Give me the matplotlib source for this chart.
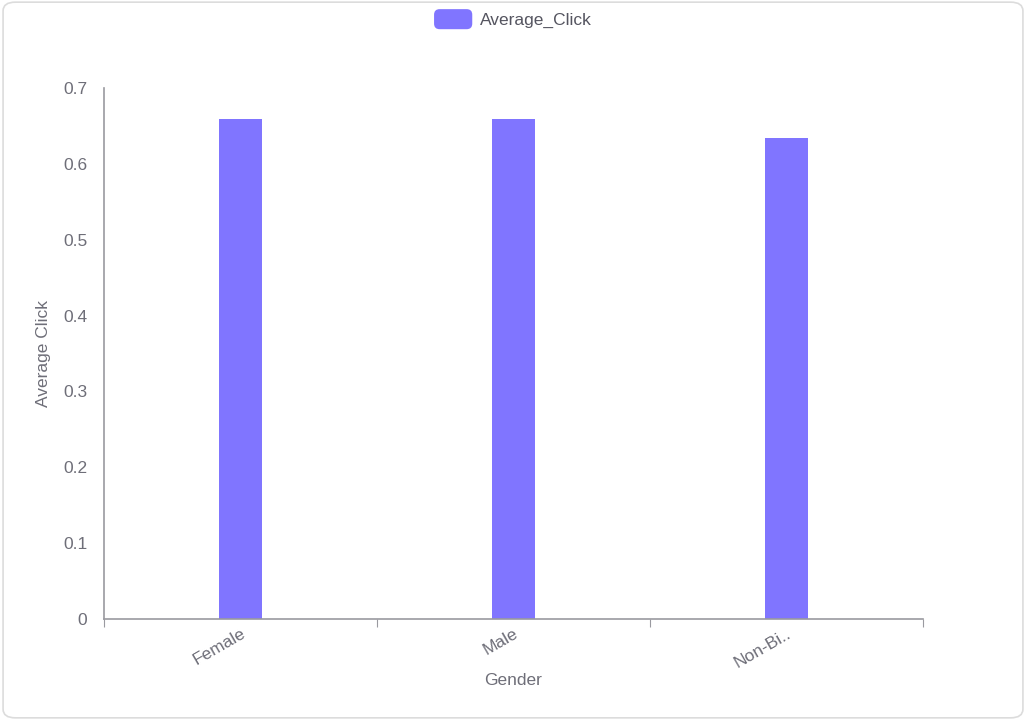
import matplotlib.pyplot as plt
from matplotlib.patches import FancyBboxPatch, Rectangle
from matplotlib.legend_handler import HandlerPatch

plt.rcParams["font.family"] = ["Liberation Sans", "DejaVu Sans"]

categories = ["Female", "Male", "Non-Bi.."]
average_click = [0.659, 0.659, 0.634]
y_ticks = [0, 0.1, 0.2, 0.3, 0.4, 0.5, 0.6, 0.7]

bar_color = "#8075ff"
text_color = "#6e6e78"
axis_color = "#9a9aa0"

fig = plt.figure(figsize=(10.26, 7.2), dpi=100)
fig.patches.append(FancyBboxPatch((0.003, 0.003), 0.994, 0.994,
                                  boxstyle="round,pad=0,rounding_size=0.012",
                                  transform=fig.transFigure, facecolor="white",
                                  edgecolor="#dcdcdc", linewidth=1.2, zorder=-1))

ax = fig.add_axes([0.1014, 0.1403, 0.7982, 0.7375])
ax.set_facecolor("none")

x = list(range(len(categories)))
ax.bar(x, average_click, width=0.157, color=bar_color)

ax.set_xlim(-0.5, len(categories) - 0.5)
ax.set_ylim(0, 0.7)
ax.set_yticks(y_ticks)
ax.set_yticklabels(["0" if v == 0 else f"{v:.1f}" for v in y_ticks])
ax.tick_params(axis="y", length=0, pad=12, labelsize=12.5, labelcolor=text_color)

# ticks on category boundaries
ax.set_xticks([i - 0.5 for i in range(len(categories) + 1)], minor=False)
ax.set_xticklabels([""] * (len(categories) + 1))
ax.tick_params(axis="x", which="major", length=6, color=axis_color, direction="out")
ax.set_xticks(x, minor=True)
ax.set_xticklabels(categories, minor=True, rotation=30, ha="right",
                   rotation_mode="anchor", fontsize=12.5, color=text_color)
ax.tick_params(axis="x", which="minor", length=0, pad=5)

for s in ["top", "right"]:
    ax.spines[s].set_visible(False)
ax.spines["left"].set_color(axis_color)
ax.spines["bottom"].set_color(axis_color)
ax.spines["left"].set_linewidth(1.2)
ax.spines["bottom"].set_linewidth(1.2)

ax.set_xlabel("Gender", fontsize=12.5, color=text_color, labelpad=2)
ax.set_ylabel("Average Click", fontsize=12.5, color=text_color, labelpad=9)


def rounded_handle(legend, orig_handle, xdescent, ydescent, width, height, fontsize):
    return FancyBboxPatch((-xdescent, -ydescent), width, height,
                          boxstyle="round,pad=0,rounding_size=4")


leg_handle = Rectangle((0, 0), 1, 1, facecolor=bar_color, edgecolor="none")
fig.legend([leg_handle], ["Average_Click"], loc="upper center",
           bbox_to_anchor=(0.5, 1.009), frameon=False, fontsize=12.5,
           handlelength=2.2, handleheight=1.4, handletextpad=0.45,
           labelcolor="#555560",
           handler_map={Rectangle: HandlerPatch(patch_func=rounded_handle)})

fig.savefig("out.png", dpi=100)
